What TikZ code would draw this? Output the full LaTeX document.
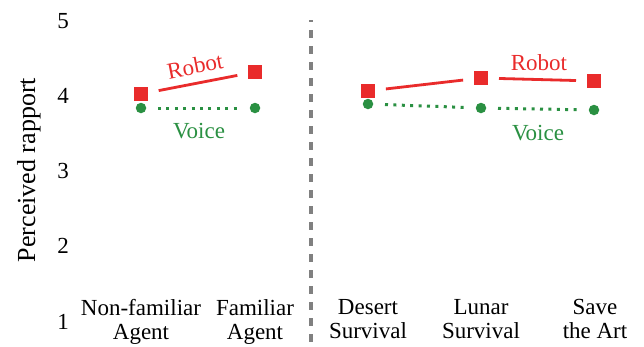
\documentclass[tikz,border=0pt]{standalone}
\usepackage{fontspec}
\setmainfont{Liberation Serif}
\definecolor{rred}{HTML}{E92B2B}
\definecolor{vgreen}{HTML}{2A9042}
\definecolor{dgray}{HTML}{808080}
\begin{document}
\begin{tikzpicture}[x=1pt,y=-1pt,
  lab/.style={font=\fontsize{23}{24}\selectfont, inner sep=0pt, align=center},
  tick/.style={font=\fontsize{23}{24}\selectfont, inner sep=0pt},
  rmark/.style={fill=rred, minimum size=14.5pt, inner sep=0pt, outer sep=0pt, rectangle},
  vmark/.style={fill=vgreen, circle, minimum size=10.5pt, inner sep=0pt, outer sep=0pt},
  rline/.style={draw=rred, line width=2.8pt, shorten <=18pt, shorten >=18pt},
  vline/.style={draw=vgreen, line width=3pt, dash pattern=on 3pt off 5.4pt, shorten <=17pt, shorten >=17pt},
  rlab/.style={text=rred, font=\fontsize{23}{24}\selectfont, inner sep=0pt},
  vlab/.style={text=vgreen, font=\fontsize{23}{24}\selectfont, inner sep=0pt},
]
\useasboundingbox (0,0) rectangle (644,346);

% y axis label
\node[font=\fontsize{26}{27}\selectfont, inner sep=0pt, rotate=90, anchor=base] (ylab) at (35,170) {Perceived rapport};

% ticks
\node[tick] (t5) at (63,21) {5};
\node[tick] (t4) at (63,96) {4};
\node[tick] (t3) at (63,171) {3};
\node[tick] (t2) at (63,246) {2};
\node[tick] (t1) at (63,322) {1};

% separator
\coordinate (dtop) at (311,20);
\coordinate (dbot) at (311,346);
\draw[dgray, line width=3.2pt, dash pattern=on 8pt off 8pt, dash phase=6pt] (dtop) -- (dbot);

% category labels
\node[lab, anchor=north] (c1) at (141,299) {Non-familiar\\Agent};
\node[lab, anchor=north] (c2) at (255,299) {Familiar\\Agent};
\node[lab, anchor=north] (c3) at (368,299) {Desert\\Survival};
\node[lab, anchor=north] (c4) at (481,299) {Lunar\\Survival};
\node[lab, anchor=north] (c5) at (595,299) {Save\\the Art};

% markers
\node[rmark] (r1) at (141,94) {};
\node[rmark] (r2) at (255,72) {};
\node[rmark] (r3) at (368,91) {};
\node[rmark] (r4) at (481,78) {};
\node[rmark] (r5) at (594,81) {};
\node[vmark] (v1) at (141,108) {};
\node[vmark] (v2) at (255,108) {};
\node[vmark] (v3) at (368,104) {};
\node[vmark] (v4) at (481,108) {};
\node[vmark] (v5) at (594,110) {};

% connectors
\draw[rline] (r1.center) -- (r2.center);
\draw[rline] (r3.center) -- (r4.center);
\draw[rline] (r4.center) -- (r5.center);
\draw[vline] (v1.center) -- (v2.center);
\draw[vline] (v3.center) -- (v4.center);
\draw[vline] (v4.center) -- (v5.center);

% series labels
\node[rlab, rotate=11] (rl1) at (195,66) {Robot};
\node[rlab, anchor=base] (rl2) at (539,70) {Robot};
\node[vlab, anchor=base] (vl1) at (199,138) {Voice};
\node[vlab, anchor=base] (vl2) at (538,140) {Voice};
\end{tikzpicture}
\end{document}
